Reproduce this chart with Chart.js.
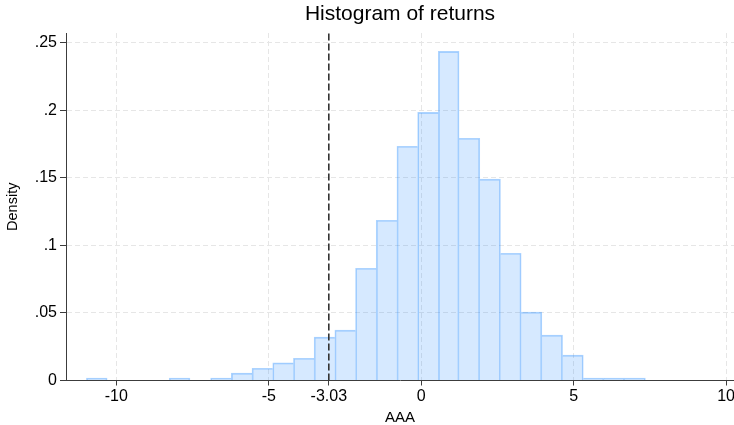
<!DOCTYPE html>
<html>
<head>
<meta charset="utf-8">
<script src="https://cdn.jsdelivr.net/npm/chart.js@4"></script>
<style>
    body { margin: 0; background: #fff; }
    #wrap { width: 734px; height: 425px; position: relative; }
</style>
</head>
<body>
<div id="wrap"><canvas id="hist-chart"></canvas></div>
<script>
// histogram bins (density per bin)
const binStart = -10.98;
const binWidth = 0.679;
const density = [0.0018, 0, 0, 0, 0.0018, 0, 0.0018, 0.0054, 0.0091, 0.0130,
    0.0165, 0.0321, 0.0373, 0.0831, 0.1186, 0.1734, 0.1985, 0.2436, 0.1793,
    0.1490, 0.0942, 0.0506, 0.0336, 0.0188, 0.0018, 0.0018, 0.0018];

const cutoff = -3.03;

const xTicks = [-10, -5, -3.03, 0, 5, 10];
const xTickLabels = ['-10', '-5', '-3.03', '0', '5', '10'];
const yTicks = [0, 0.05, 0.1, 0.15, 0.2, 0.25];
const yTickLabels = ['0', '.05', '.1', '.15', '.2', '.25'];

const xMin = -11.65, xMax = 10.26;
const yMax = 0.2572;

Chart.defaults.font.family = '"Liberation Sans", Arial, sans-serif';
Chart.defaults.color = '#1a1a1a';

const bars = [];
density.forEach((d, i) => {
    if (d > 0) {
        bars.push({ x: binStart + (i + 0.5) * binWidth, y: d, bin: i });
    }
});

// shared edge between two bins is drawn once, by the taller one
const barBorder = (c) => {
    const p = bars[c.dataIndex];
    if (!p) return 1;
    const prev = density[p.bin - 1] || 0;
    const next = density[p.bin + 1] || 0;
    return {
        top: 1,
        bottom: 0,
        left: prev < p.y ? 1 : 0,
        right: next <= p.y ? 1 : 0,
    };
};

const gridColor = '#e6e6e6';
const axisColor = '#3c3c3c';

const ctx = document.getElementById('hist-chart').getContext('2d');
new Chart(ctx, {
    type: 'bar',
    data: {
        datasets: [{
            type: 'line',
            data: [{ x: cutoff, y: 0 }, { x: cutoff, y: yMax }],
            borderColor: '#333333',
            borderWidth: 1.6,
            borderDash: [7, 3],
            pointRadius: 0,
            fill: false,
            order: 0,
        }, {
            type: 'bar',
            data: bars,
            backgroundColor: 'rgba(26, 133, 255, 0.18)',
            borderColor: 'rgba(26, 133, 255, 0.36)',
            borderWidth: barBorder,
            borderSkipped: false,
            categoryPercentage: 1,
            barPercentage: 1,
            order: 1,
        }]
    },
    options: {
        responsive: true,
        maintainAspectRatio: false,
        animation: false,
        layout: { padding: 0 },
        plugins: {
            legend: { display: false },
            tooltip: { enabled: false },
            title: {
                display: true,
                text: 'Histogram of returns',
                fullSize: false,
                color: '#000',
                font: { size: 21, weight: 'normal' },
                padding: { top: 2, bottom: 5.8 },
            }
        },
        scales: {
            x: {
                type: 'linear',
                min: xMin,
                max: xMax,
                offset: false,
                afterBuildTicks: (scale) => {
                    scale.ticks = xTicks.map(v => ({ value: v }));
                },
                afterFit: (scale) => {
                    scale.height = 44.5;
                    scale.paddingLeft = 0;
                    scale.paddingRight = 0;
                },
                ticks: {
                    autoSkip: false,
                    maxRotation: 0,
                    padding: 1,
                    color: '#000',
                    font: { size: 16 },
                    callback: (v, i) => xTickLabels[i],
                },
                grid: {
                    offset: false,
                    color: (c) => (c.tick && c.tick.value === cutoff) ? 'rgba(0,0,0,0)' : gridColor,
                    tickColor: axisColor,
                    tickLength: 5,
                    lineWidth: 1,
                },
                border: { display: true, color: axisColor, width: 1, dash: [5, 3] },
                title: {
                    display: true,
                    text: 'AAA',
                    color: '#000',
                    font: { size: 15, lineHeight: 0.95 },
                    padding: { top: 0, bottom: 0 },
                }
            },
            y: {
                min: 0,
                max: yMax,
                afterBuildTicks: (scale) => {
                    scale.ticks = yTicks.map(v => ({ value: v }));
                },
                afterFit: (scale) => {
                    scale.width = 66;
                    scale.paddingTop = 0;
                    scale.paddingBottom = 0;
                },
                ticks: {
                    autoSkip: false,
                    padding: 3,
                    color: '#000',
                    font: { size: 16 },
                    callback: (v, i) => yTickLabels[i],
                },
                grid: {
                    color: gridColor,
                    tickColor: axisColor,
                    tickLength: 6,
                    lineWidth: 1,
                },
                border: { display: true, color: axisColor, width: 1, dash: [5, 3] },
                title: {
                    display: true,
                    text: 'Density',
                    color: '#000',
                    font: { size: 14.5 },
                    padding: { top: 4, bottom: 0 },
                }
            }
        }
    }
});
</script>
</body>
</html>
